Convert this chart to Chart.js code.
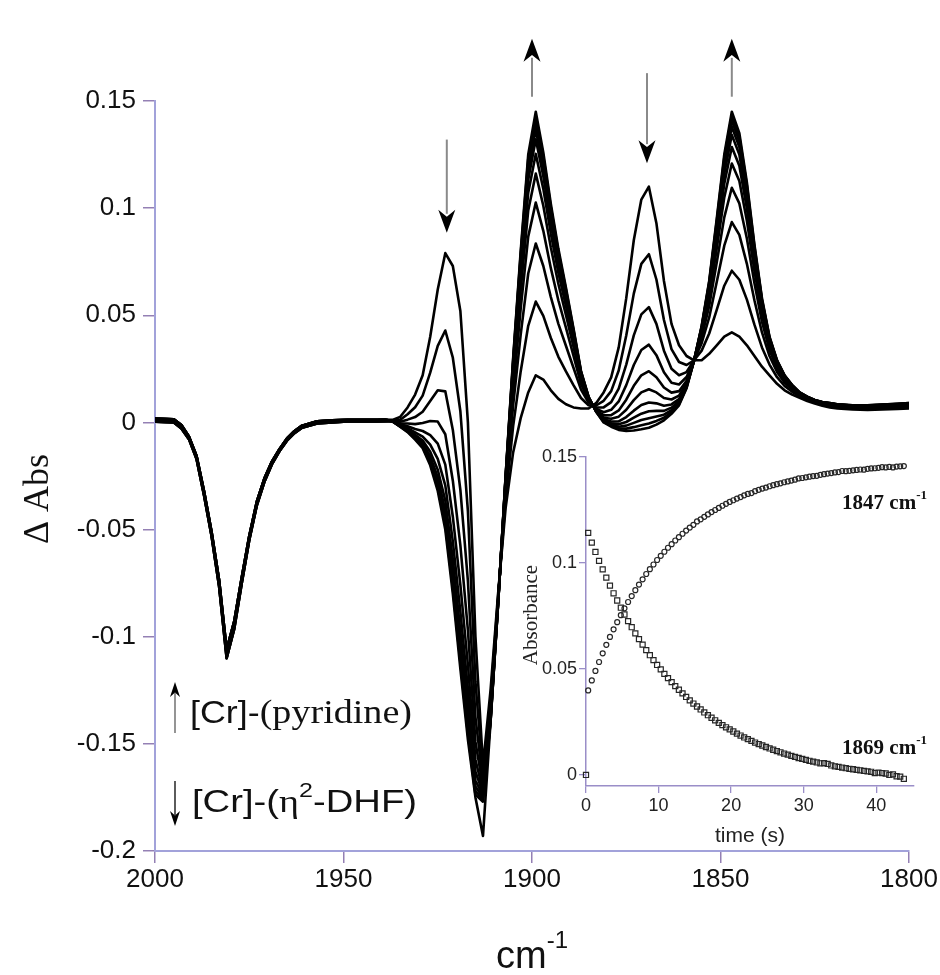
<!DOCTYPE html>
<html><head><meta charset="utf-8">
<script src="https://cdn.jsdelivr.net/npm/chart.js@4.4.1/dist/chart.umd.min.js"></script>
<style>
html,body{margin:0;padding:0;background:#fff;}
#wrap{position:relative;width:940px;height:975px;background:#fff;}
#main{position:absolute;left:0;top:0;}
#inset{position:absolute;left:500px;top:430px;}
</style></head><body>
<div id="wrap"><canvas id="main" width="940" height="975"></canvas><canvas id="inset" width="440" height="440"></canvas></div>
<script>
// ---------- main spectra (wavenumber in cm-1, ΔAbs) ----------
const wavenumbers = [2000,1995,1993,1991,1989,1987,1985,1983,1981,1979,1977,1975,1973,1971,1969,1967,1965,1963,1961,1957,1953,1949,1945,
1941,1939,1937,1935,1933,1931,1929,1927,1925,1923,1921,1919,1917,1915,1913,1911,1909,1907,1905,1903,1901,1899,1897,1895,1893,1891,1889,1887,1885,1883,1881,1879,1877,1875,1873,1871,1869,1867,1865,1863,1861,1859,1857,1855,1853,1851,1849,1847,1845,1843,1841,1839,1837,1835,1833,1831,1829,1827,1825,1823,1821,1819,1815,1811,1807,1803,1800];

const spec1 = [0.001,0.0008,-0.002,-0.007,-0.016,-0.033,-0.052,-0.075,-0.108,-0.095,-0.074,-0.054,-0.038,-0.027,-0.019,-0.013,-0.008,-0.0045,-0.002,0,0.0005,0.0008,0.0008,
0.0008,0.001,0.0012,0.0025,0.007,0.013,0.022,0.040,0.062,0.079,0.073,0.052,0.000,-0.100,-0.160,-0.125,-0.080,-0.040,-0.014,0.002,0.014,0.022,0.020,0.015,0.011,0.0085,0.007,0.0065,0.0065,0.009,0.014,0.021,0.035,0.058,0.085,0.104,0.110,0.093,0.066,0.046,0.036,0.031,0.029,0.029,0.032,0.036,0.040,0.042,0.040,0.036,0.031,0.026,0.022,0.018,0.015,0.013,0.0115,0.010,0.0088,0.0078,0.007,0.0065,0.006,0.0058,0.006,0.0063,0.0065];
const spec2 = [0.0018,0.0015,-0.0012,-0.0065,-0.0155,-0.032,-0.051,-0.0735,-0.106,-0.093,-0.0725,-0.053,-0.037,-0.0262,-0.0183,-0.0125,-0.0075,-0.004,-0.0015,0.0005,0.001,0.0012,0.0012,
0.0012,0.0014,0.001,0.0012,0.0038,0.0071,0.0125,0.0232,0.0357,0.0429,0.0302,0.0052,-0.0414,-0.121,-0.165,-0.1292,-0.0814,-0.0358,-0.0017,0.0238,0.0451,0.0564,0.0497,0.0394,0.0306,0.0238,0.0174,0.0114,0.008,0.0079,0.0101,0.0146,0.0242,0.0406,0.0601,0.074,0.0785,0.0667,0.0478,0.0342,0.0282,0.0268,0.029,0.0335,0.0415,0.0525,0.0638,0.0708,0.0666,0.0573,0.0456,0.035,0.027,0.0211,0.017,0.0143,0.0122,0.0106,0.0093,0.0083,0.0076,0.0071,0.0066,0.0064,0.0066,0.007,0.0072];
const spec3 = [0.0003,0.0,-0.0028,-0.0078,-0.017,-0.034,-0.053,-0.0765,-0.110,-0.0965,-0.0752,-0.055,-0.0388,-0.0278,-0.0196,-0.0135,-0.0085,-0.005,-0.0025,-0.0005,0.0,0.0004,0.0005,
0.0005,0.0006,0.0009,0.0003,0.0013,0.0025,0.005,0.010,0.015,0.0145,-0.0035,-0.0315,-0.074,-0.1375,-0.168,-0.1325,-0.0825,-0.0325,0.008,0.041,0.0695,0.0835,0.073,0.0585,0.046,0.0358,0.0255,0.0153,0.0093,0.007,0.007,0.0095,0.0158,0.027,0.0406,0.0504,0.0538,0.046,0.0335,0.025,0.022,0.0235,0.029,0.037,0.049,0.0655,0.0825,0.0935,0.0875,0.074,0.057,0.042,0.031,0.0235,0.0185,0.0153,0.0128,0.011,0.0097,0.0087,0.008,0.0075,0.007,0.0069,0.0072,0.0075,0.0078];
const spec4 = [0.001,0.0008,-0.002,-0.007,-0.016,-0.033,-0.052,-0.075,-0.108,-0.095,-0.074,-0.054,-0.038,-0.027,-0.019,-0.013,-0.008,-0.0045,-0.002,0,0.0005,0.0008,0.0008,
0.0008,0.001,0.0007,-0.0005,-0.0005,-0.0008,-0.0003,0.0007,0.0004,-0.0055,-0.0272,-0.0574,-0.0969,-0.1491,-0.170,-0.1348,-0.0833,-0.0302,0.0148,0.0531,0.0867,0.1026,0.0894,0.072,0.0569,0.0442,0.0312,0.018,0.0101,0.0064,0.0048,0.0059,0.0098,0.0174,0.0268,0.0338,0.0363,0.0314,0.0234,0.0185,0.0177,0.0212,0.029,0.0395,0.0543,0.0746,0.0957,0.1095,0.1022,0.0858,0.0651,0.047,0.0338,0.0252,0.0196,0.0159,0.0131,0.0113,0.0099,0.0089,0.0083,0.0078,0.0073,0.0072,0.0075,0.0079,0.0081];
const spec5 = [0.0018,0.0015,-0.0012,-0.0065,-0.0155,-0.032,-0.051,-0.0735,-0.106,-0.093,-0.0725,-0.053,-0.037,-0.0262,-0.0183,-0.0125,-0.0075,-0.004,-0.0015,0.0005,0.001,0.0012,0.0012,
0.0012,0.0014,0.0007,-0.0009,-0.0018,-0.0031,-0.004,-0.0059,-0.0099,-0.0197,-0.044,-0.0758,-0.1132,-0.1574,-0.172,-0.1365,-0.0838,-0.0285,0.0197,0.0617,0.0989,0.1161,0.1011,0.0816,0.0646,0.0502,0.0353,0.0199,0.0107,0.0059,0.0033,0.0034,0.0056,0.0106,0.0171,0.022,0.0239,0.0211,0.0163,0.0139,0.0146,0.0195,0.029,0.0412,0.058,0.0811,0.105,0.1208,0.1127,0.0941,0.0708,0.0505,0.0358,0.0264,0.0204,0.0164,0.0134,0.0115,0.0101,0.0091,0.0085,0.008,0.0075,0.0075,0.0078,0.0081,0.0084];
const spec6 = [0.0003,0.0,-0.0028,-0.0078,-0.017,-0.034,-0.053,-0.0765,-0.110,-0.0965,-0.0752,-0.055,-0.0388,-0.0278,-0.0196,-0.0135,-0.0085,-0.005,-0.0025,-0.0005,0.0,0.0004,0.0005,
0.0005,0.0006,0.0006,-0.0013,-0.0027,-0.0046,-0.0066,-0.0104,-0.017,-0.0294,-0.0555,-0.0883,-0.1243,-0.163,-0.173,-0.1376,-0.0842,-0.0274,0.023,0.0675,0.1072,0.1253,0.109,0.0881,0.0698,0.0543,0.0381,0.0212,0.0111,0.0056,0.0022,0.0017,0.0027,0.0059,0.0104,0.014,0.0155,0.014,0.0114,0.0107,0.0125,0.0184,0.029,0.0424,0.0606,0.0856,0.1114,0.1285,0.1198,0.0998,0.0747,0.0529,0.0371,0.0272,0.0209,0.0168,0.0136,0.0117,0.0102,0.0092,0.0087,0.0082,0.0077,0.0076,0.0079,0.0083,0.0086];
const spec7 = [0.001,0.0008,-0.002,-0.007,-0.016,-0.033,-0.052,-0.075,-0.108,-0.095,-0.074,-0.054,-0.038,-0.027,-0.019,-0.013,-0.008,-0.0045,-0.002,0,0.0005,0.0008,0.0008,
0.0008,0.001,0.0006,-0.0015,-0.0033,-0.0058,-0.0084,-0.0137,-0.0221,-0.0365,-0.0639,-0.0975,-0.1325,-0.1671,-0.174,-0.1384,-0.0845,-0.0266,0.0254,0.0718,0.1133,0.1321,0.1149,0.0929,0.0737,0.0573,0.0401,0.0222,0.0114,0.0054,0.0015,0.0004,0.0005,0.0025,0.0055,0.0081,0.0093,0.0089,0.0078,0.0084,0.0109,0.0176,0.029,0.0433,0.0624,0.0888,0.1161,0.1342,0.125,0.104,0.0775,0.0546,0.0381,0.0278,0.0213,0.017,0.0137,0.0118,0.0103,0.0093,0.0088,0.0083,0.0078,0.0078,0.0081,0.0084,0.0087];
const spec8 = [0.0018,0.0015,-0.0012,-0.0065,-0.0155,-0.032,-0.051,-0.0735,-0.106,-0.093,-0.0725,-0.053,-0.037,-0.0262,-0.0183,-0.0125,-0.0075,-0.004,-0.0015,0.0005,0.001,0.0012,0.0012,
0.0012,0.0014,0.0005,-0.0017,-0.0037,-0.0066,-0.0097,-0.0159,-0.0256,-0.0412,-0.0696,-0.1036,-0.1379,-0.1699,-0.175,-0.139,-0.0847,-0.026,0.027,0.0747,0.1175,0.1366,0.1188,0.0961,0.0762,0.0593,0.0415,0.0228,0.0116,0.0053,0.001,-0.0004,-0.0009,0.0002,0.0022,0.0041,0.0052,0.0054,0.0054,0.0069,0.0099,0.017,0.029,0.0439,0.0637,0.091,0.1192,0.138,0.1285,0.1068,0.0795,0.0558,0.0388,0.0283,0.0215,0.0172,0.0138,0.0119,0.0104,0.0094,0.0089,0.0084,0.0079,0.0078,0.0081,0.0085,0.0088];
const spec9 = [0.0003,0.0,-0.0028,-0.0078,-0.017,-0.034,-0.053,-0.0765,-0.110,-0.0965,-0.0752,-0.055,-0.0388,-0.0278,-0.0196,-0.0135,-0.0085,-0.005,-0.0025,-0.0005,0.0,0.0004,0.0005,
0.0005,0.0006,0.0005,-0.0018,-0.004,-0.0072,-0.0106,-0.0176,-0.0282,-0.0448,-0.0739,-0.1083,-0.1421,-0.172,-0.176,-0.1394,-0.0848,-0.0256,0.0282,0.0769,0.1206,0.1401,0.1218,0.0985,0.0782,0.0608,0.0425,0.0233,0.0118,0.0052,0.0006,-0.0011,-0.002,-0.0015,-0.0002,0.0011,0.002,0.0028,0.0036,0.0057,0.0091,0.0166,0.029,0.0444,0.0646,0.0926,0.1216,0.1409,0.1312,0.109,0.0809,0.0567,0.0393,0.0286,0.0217,0.0173,0.0139,0.0119,0.0104,0.0094,0.0089,0.0084,0.0079,0.0079,0.0082,0.0086,0.0089];
const spec10 = [0.001,0.0008,-0.002,-0.007,-0.016,-0.033,-0.052,-0.075,-0.108,-0.095,-0.074,-0.054,-0.038,-0.027,-0.019,-0.013,-0.008,-0.0045,-0.002,0,0.0005,0.0008,0.0008,
0.0008,0.001,0.0005,-0.0019,-0.0043,-0.0076,-0.0114,-0.0189,-0.0303,-0.0477,-0.0772,-0.112,-0.1453,-0.1737,-0.177,-0.1397,-0.0849,-0.0253,0.0292,0.0786,0.123,0.1428,0.1241,0.1004,0.0797,0.062,0.0433,0.0237,0.0119,0.0051,0.0003,-0.0016,-0.0028,-0.0029,-0.0022,-0.0013,-0.0005,0.0007,0.0022,0.0048,0.0085,0.0163,0.029,0.0447,0.0654,0.0939,0.1235,0.1432,0.1333,0.1106,0.0821,0.0574,0.0397,0.0288,0.0219,0.0174,0.014,0.012,0.0105,0.0095,0.009,0.0085,0.008,0.008,0.0083,0.0087,0.009];
const spec11 = [0.0018,0.0015,-0.0012,-0.0065,-0.0155,-0.032,-0.051,-0.0735,-0.106,-0.093,-0.0725,-0.053,-0.037,-0.0262,-0.0183,-0.0125,-0.0075,-0.004,-0.0015,0.0005,0.001,0.0012,0.0012,
0.0012,0.0014,0.0005,-0.002,-0.0045,-0.008,-0.012,-0.020,-0.032,-0.050,-0.080,-0.115,-0.148,-0.175,-0.193,-0.140,-0.085,-0.025,0.030,0.080,0.125,0.145,0.126,0.102,0.081,0.063,0.044,0.024,0.012,0.005,0.0,-0.002,-0.0035,-0.004,-0.0038,-0.0032,-0.0025,-0.001,0.001,0.004,0.008,0.016,0.029,0.045,0.066,0.095,0.125,0.145,0.135,0.112,0.083,0.058,0.040,0.029,0.022,0.0175,0.014,0.012,0.0105,0.0095,0.009,0.0085,0.008,0.008,0.0083,0.0087,0.009];

const xTickValues = [2000,1950,1900,1850,1800];
const xTickLabels = ['2000','1950','1900','1850','1800'];
const yTickValues = [-0.2,-0.15,-0.1,-0.05,0,0.05,0.1,0.15];
const yTickLabels = ['-0.2','-0.15','-0.1','-0.05','0','0.05','0.1','0.15'];

// peak arrows: wavenumber, tail value, tip value
const arrowMarks = [
  {nu:1922.6, from:0.132, to:0.0885},
  {nu:1900.0, from:0.152, to:0.179},
  {nu:1869.5, from:0.163, to:0.121},
  {nu:1847.0, from:0.152, to:0.179}
];

// ---------- inset kinetics ----------
const times = [0.3,0.8,1.3,1.8,2.3,2.8,3.3,3.8,4.3,4.8,5.3,5.8,6.3,6.8,7.3,7.8,8.3,8.8,9.3,9.8,10.3,10.8,11.3,11.8,12.3,12.8,13.3,13.8,14.3,14.8,15.3,15.8,16.3,16.8,17.3,17.8,18.3,18.8,19.3,19.8,20.3,20.8,21.3,21.8,22.3,22.8,23.3,23.8,24.3,24.8,25.3,25.8,26.3,26.8,27.3,27.8,28.3,28.8,29.3,29.8,30.3,30.8,31.3,31.8,32.3,32.8,33.3,33.8,34.3,34.8,35.3,35.8,36.3,36.8,37.3,37.8,38.3,38.8,39.3,39.8,40.3,40.8,41.3,41.8,42.3,42.8,43.3,43.8];
const abs1847 = [0.0399,0.0446,0.0491,0.0533,0.0574,0.0614,0.0651,0.0687,0.0721,0.0754,
0.0786,0.0816,0.0844,0.0872,0.0898,0.0923,0.0948,0.0971,0.0993,0.1014,
0.1034,0.1053,0.1072,0.1089,0.1106,0.1122,0.1138,0.1153,0.1167,0.1180,
0.1196,0.1206,0.1218,0.1229,0.1240,0.1250,0.1260,0.1270,0.1279,0.1288,
0.1296,0.1304,0.1311,0.1319,0.1326,0.1330,0.1339,0.1345,0.1351,0.1356,
0.1362,0.1367,0.1372,0.1376,0.1381,0.1385,0.1389,0.1393,0.1399,0.1401,
0.1404,0.1407,0.1410,0.1411,0.1416,0.1419,0.1422,0.1424,0.1427,0.1429,
0.1434,0.1433,0.1435,0.1437,0.1439,0.1441,0.1440,0.1444,0.1446,0.1447,
0.1449,0.1452,0.1451,0.1453,0.1451,0.1455,0.1456,0.1457];
const abs1869 = [0.1142,0.1096,0.1052,0.1010,0.0970,0.0931,0.0893,0.0857,0.0823,0.0789,
0.0757,0.0726,0.0697,0.0668,0.0641,0.0615,0.0589,0.0565,0.0542,0.0519,
0.0498,0.0477,0.0457,0.0438,0.0419,0.0402,0.0385,0.0368,0.0352,0.0337,
0.0323,0.0309,0.0295,0.0282,0.0270,0.0258,0.0246,0.0235,0.0225,0.0215,
0.0205,0.0195,0.0186,0.0177,0.0169,0.0161,0.0153,0.0146,0.0139,0.0132,
0.0125,0.0119,0.0113,0.0107,0.0101,0.0096,0.0090,0.0085,0.0080,0.0076,
0.0071,0.0067,0.0063,0.0059,0.0055,0.0056,0.0052,0.0045,0.0041,0.0038,
0.0035,0.0032,0.0029,0.0027,0.0024,0.0022,0.0019,0.0017,0.0015,0.0009,
0.0011,0.0009,0.0007,0.0000,0.0003,-0.0006,-0.0008,-0.0018];
const startTime1869 = 0, startAbs1869 = 0;
const insetXTicks = [0,10,20,30,40];
const insetXLabels = ['0','10','20','30','40'];
const insetYTicks = [0,0.05,0.1,0.15];
const insetYLabels = ['0','0.05','0.1','0.15'];

// ---------- helpers ----------
const SANS = '"Liberation Sans", Arial, Helvetica, sans-serif';
const SERIF = '"Liberation Serif", "Times New Roman", serif';

function drawArrow(ctx, x, y0, y1, headLen, halfW, shaftColor, shaftW) {
  const dir = y1 > y0 ? 1 : -1;
  ctx.save();
  ctx.strokeStyle = shaftColor; ctx.lineWidth = shaftW; ctx.lineCap = 'butt';
  ctx.beginPath(); ctx.moveTo(x, y0); ctx.lineTo(x, y1 - dir * (headLen - 4)); ctx.stroke();
  ctx.fillStyle = '#000';
  ctx.beginPath();
  ctx.moveTo(x, y1);
  ctx.lineTo(x - halfW, y1 - dir * headLen);
  ctx.lineTo(x, y1 - dir * (headLen * 0.7));
  ctx.lineTo(x + halfW, y1 - dir * headLen);
  ctx.closePath(); ctx.fill();
  ctx.restore();
}
function drawRuns(ctx, runs, x, y, opt) {
  opt = opt || {};
  let w = 0;
  runs.forEach(r => { ctx.font = r.font; r.w = ctx.measureText(r.t).width; w += r.w; });
  const sx = opt.width ? opt.width / w : 1;
  let x0 = x;
  if (opt.align === 'right') x0 = x - w * sx;
  if (opt.align === 'center') x0 = x - w * sx / 2;
  ctx.save(); ctx.translate(x0, y); ctx.scale(sx, 1);
  ctx.textAlign = 'left'; ctx.textBaseline = 'alphabetic';
  let cx = 0;
  runs.forEach(r => { ctx.font = r.font; ctx.fillText(r.t, cx, r.dy || 0); cx += r.w; });
  ctx.restore();
}

const mainDecor = {
  id: 'mainDecor',
  afterDraw(chart) {
    const ctx = chart.ctx, xs = chart.scales.x, ys = chart.scales.y;
    ctx.save();
    arrowMarks.forEach(a => {
      drawArrow(ctx, xs.getPixelForValue(a.nu), ys.getPixelForValue(a.from), ys.getPixelForValue(a.to), 23, 8.5, '#8a8a8a', 2);
    });
    drawArrow(ctx, 175, 733, 682, 15, 5, '#7a7a7a', 1.6);
    drawArrow(ctx, 175, 781, 826, 15, 5, '#333', 1.6);
    ctx.fillStyle = '#111';
    drawRuns(ctx, [{t:'[Cr]-', font:'32px ' + SANS}, {t:'(pyridine)', font:'34px ' + SERIF}], 190, 723, {width:222});
    drawRuns(ctx, [{t:'[Cr]-(', font:'32px ' + SANS}, {t:'\u03B7', font:'32px ' + SERIF}, {t:'2', font:'21px ' + SANS, dy:-15}, {t:'-DHF)', font:'32px ' + SANS}], 192, 812, {width:225});
    // y title
    ctx.save(); ctx.translate(48, 499); ctx.rotate(-Math.PI / 2);
    ctx.textAlign = 'center'; ctx.textBaseline = 'alphabetic';
    ctx.font = '36px ' + SERIF; ctx.fillText('\u0394 Abs', 0, 0); ctx.restore();
    // x title
    drawRuns(ctx, [{t:'cm', font:'38px ' + SANS}, {t:'-1', font:'24px ' + SANS, dy:-20}], 532, 968, {align:'center'});
    ctx.restore();
  }
};

const insetDecor = {
  id: 'insetDecor',
  afterDraw(chart) {
    const ctx = chart.ctx;
    ctx.save(); ctx.fillStyle = '#222';
    ctx.save(); ctx.translate(37, 185); ctx.rotate(-Math.PI / 2);
    ctx.textAlign = 'center'; ctx.textBaseline = 'alphabetic';
    ctx.font = '21px ' + SERIF; ctx.fillText('Absorbance', 0, 0); ctx.restore();
    ctx.textAlign = 'center'; ctx.font = '21px ' + SANS; ctx.fillText('time (s)', 250, 412);
    ctx.fillStyle = '#111';
    drawRuns(ctx, [{t:'1847 cm', font:'bold 21px ' + SERIF}, {t:'-1', font:'bold 13px ' + SERIF, dy:-10}], 427, 79, {align:'right'});
    drawRuns(ctx, [{t:'1869 cm', font:'bold 21px ' + SERIF}, {t:'-1', font:'bold 13px ' + SERIF, dy:-10}], 427, 324, {align:'right'});
    ctx.restore();
  }
};

// ---------- main chart ----------
const spectra = [spec1, spec2, spec3, spec4, spec5, spec6, spec7, spec8, spec9, spec10, spec11];
const mainDatasets = spectra.map((s, k) => ({
  label: 'spectrum ' + (k + 1),
  data: wavenumbers.map((w, i) => ({x: w, y: s[i]})),
  borderColor: '#000', borderWidth: 2.6, pointRadius: 0, fill: false, tension: 0,
  borderJoinStyle: 'round'
}));
const AXIS_MAIN = '#a2a2da';
const TICK_MAIN = '#9480b4';

new Chart(document.getElementById('main'), {
  type: 'line',
  data: {datasets: mainDatasets},
  options: {
    responsive: false, animation: false, devicePixelRatio: 1, events: [],
    layout: {padding: {left: 0, top: 101, right: 31, bottom: 0}},
    plugins: {legend: {display: false}, tooltip: {enabled: false}},
    scales: {
      x: {
        type: 'linear', reverse: true, min: 1800, max: 2000,
        afterFit(s) { s.height = 124; },
        afterBuildTicks(s) { s.ticks = xTickValues.map(v => ({value: v})); },
        ticks: {callback: (v, i) => xTickLabels[i], font: {family: SANS, size: 26}, color: '#111', padding: 1, maxRotation: 0, autoSkip: false},
        grid: {display: true, drawOnChartArea: false, drawTicks: true, tickLength: 12, color: TICK_MAIN, lineWidth: 1.5},
        border: {display: true, color: AXIS_MAIN, width: 2}
      },
      y: {
        type: 'linear', min: -0.2, max: 0.15,
        afterFit(s) { s.width = 155; },
        afterBuildTicks(s) { s.ticks = yTickValues.map(v => ({value: v})); },
        ticks: {callback: (v, i) => yTickLabels[i], font: {family: SANS, size: 26}, color: '#111', padding: 7, autoSkip: false},
        grid: {display: true, drawOnChartArea: false, drawTicks: true, tickLength: 12, color: TICK_MAIN, lineWidth: 1.5},
        border: {display: true, color: AXIS_MAIN, width: 2}
      }
    }
  },
  plugins: [mainDecor]
});

// ---------- inset chart ----------
const AXIS_INSET = '#9a8ec8';
new Chart(document.getElementById('inset'), {
  type: 'scatter',
  data: {datasets: [
    {label: '1847 cm-1', data: times.map((t, i) => ({x: t, y: abs1847[i]})),
     pointStyle: 'circle', pointRadius: 2.5, borderWidth: 1.2, borderColor: '#262626', backgroundColor: 'rgba(255,255,255,0)', clip: false},
    {label: '1869 cm-1', data: [{x: startTime1869, y: startAbs1869}].concat(times.map((t, i) => ({x: t, y: abs1869[i]}))),
     pointStyle: 'rect', pointRadius: 3.6, borderWidth: 1.2, borderColor: '#262626', backgroundColor: 'rgba(255,255,255,0)', clip: false}
  ]},
  options: {
    responsive: false, animation: false, devicePixelRatio: 1, events: [],
    layout: {padding: {left: 0, top: 27, right: 26, bottom: 0}},
    plugins: {legend: {display: false}, tooltip: {enabled: false}},
    scales: {
      x: {
        type: 'linear', min: 0, max: 45.2,
        afterFit(s) { s.height = 84; },
        afterBuildTicks(s) { s.ticks = insetXTicks.map(v => ({value: v})); },
        ticks: {callback: (v, i) => insetXLabels[i], font: {family: SANS, size: 18}, color: '#222', padding: 2, maxRotation: 0, autoSkip: false},
        grid: {display: true, drawOnChartArea: false, drawTicks: true, tickLength: 7, color: AXIS_INSET, lineWidth: 1.3},
        border: {display: true, color: AXIS_INSET, width: 1.5}
      },
      y: {
        type: 'linear', min: -0.0052, max: 0.15,
        afterFit(s) { s.width = 86; },
        afterBuildTicks(s) { s.ticks = insetYTicks.map(v => ({value: v})); },
        ticks: {callback: (v, i) => insetYLabels[i], font: {family: SANS, size: 18}, color: '#222', padding: 2, autoSkip: false},
        grid: {display: true, drawOnChartArea: false, drawTicks: true, tickLength: 7, color: AXIS_INSET, lineWidth: 1.3},
        border: {display: true, color: AXIS_INSET, width: 1.5}
      }
    }
  },
  plugins: [insetDecor]
});
</script>
</body></html>
